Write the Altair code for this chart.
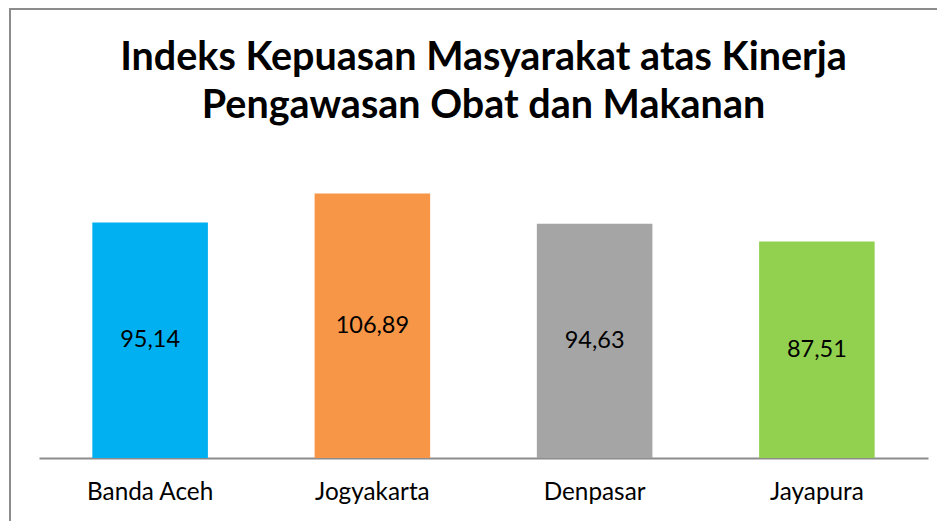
import altair as alt
import pandas as pd

cities = ["Banda Aceh", "Jogyakarta", "Denpasar", "Jayapura"]
values = [95.14, 106.89, 94.63, 87.51]
labels = ["95,14", "106,89", "94,63", "87,51"]
colors = ["#00B0F0", "#F79646", "#A5A5A5", "#92D050"]

df = pd.DataFrame({"city": cities, "value": values, "label": labels})
df["half"] = df["value"] / 2

FONT = "Lato"

x = alt.X("city:N", sort=cities, title=None,
          scale=alt.Scale(paddingInner=0.48, paddingOuter=0.24),
          axis=alt.Axis(labelAngle=0, labelFontSize=24.3, labelFont=FONT, labelColor="#000000",
                        labelPadding=22, domainColor="#8C8C8C", domainWidth=2, ticks=False))

bars = alt.Chart(df).mark_bar().encode(
    x=x,
    y=alt.Y("value:Q", scale=alt.Scale(domain=[0, 120]), axis=None),
    color=alt.Color("city:N", sort=cities, scale=alt.Scale(domain=cities, range=colors), legend=None),
)

text = alt.Chart(df).mark_text(fontSize=23.5, font=FONT, color="#000000", baseline="middle").encode(
    x=alt.X("city:N", sort=cities),
    y=alt.Y("half:Q"),
    text="label:N",
)

border = alt.Chart(df).mark_rule(color="#8C8C8C", strokeWidth=2).encode(
    x=alt.value(-29), x2=alt.value(-29), y=alt.value(-153), y2=alt.value(420)
)
border_top = alt.Chart(df).mark_rule(color="#8C8C8C", strokeWidth=2).encode(
    x=alt.value(-29), x2=alt.value(920), y=alt.value(-152), y2=alt.value(-152)
)

chart = alt.layer(border, border_top, bars, text).properties(
    width=889, height=297,
    background="white",
    title=alt.TitleParams(
        text=["Indeks Kepuasan Masyarakat atas Kinerja", "Pengawasan Obat dan Makanan"],
        fontSize=39.5, font=FONT, fontWeight="bold", color="#000000",
        anchor="middle", lineHeight=48, offset=-119,
    ),
    autosize=alt.AutoSizeParams(type="none"),
    padding={"left": 31, "top": 153, "right": 9, "bottom": 63},
).configure_view(strokeWidth=0, stroke="transparent")

chart.save("out.html", embed_options={"renderer": "svg", "actions": False})
